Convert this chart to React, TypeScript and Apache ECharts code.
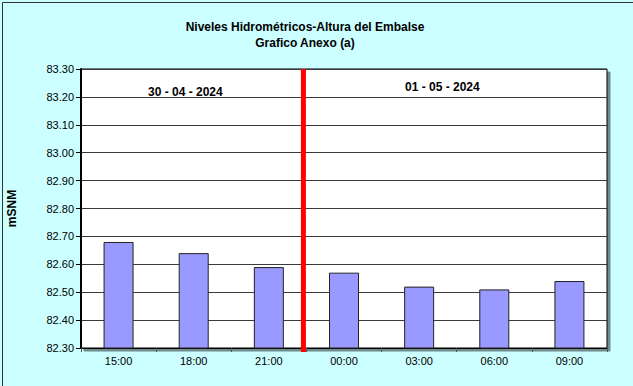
import React, { useEffect, useRef } from "react";
import * as echarts from "echarts";

const categories = ["15:00", "18:00", "21:00", "00:00", "03:00", "06:00", "09:00"];
const levels = [82.68, 82.64, 82.59, 82.57, 82.52, 82.51, 82.54];
const dayLabels = ["30 - 04 - 2024", "01 - 05 - 2024"];
const titleLines = ["Niveles Hidrométricos-Altura del Embalse", "Grafico Anexo (a)"];
const lastIndexOfFirstDay = 2;
const yMin = 82.3;
const yMax = 83.3;

export default function App() {
  const ref = useRef<HTMLDivElement>(null);
  useEffect(() => {
    document.body.style.margin = "0";
    const chart = echarts.init(ref.current!, undefined, { renderer: "svg" });
    const font = "Liberation Sans, Arial, sans-serif";
    chart.setOption({
      animation: false,
      backgroundColor: "#CCFFFF",
      title: {
        text: titleLines.join("\n"),
        left: 300,
        textAlign: "center",
        top: 14,
        textStyle: { fontFamily: font, fontSize: 12, fontWeight: "bold", color: "#000", lineHeight: 16 },
      },
      grid: {
        left: 81,
        top: 69,
        right: 26,
        bottom: 38,
        outerBoundsMode: "none",
        containLabel: false,
        show: true,
        backgroundColor: "#fff",
        borderColor: "#000",
        borderWidth: 1,
        shadowColor: "rgba(0,0,0,0.45)",
        shadowOffsetX: 3,
        shadowOffsetY: 3,
        shadowBlur: 0,
      },
      xAxis: {
        type: "category",
        data: categories,
        axisLine: { lineStyle: { color: "#000", width: 1 } },
        axisTick: { show: true, interval: 0, length: 4, lineStyle: { color: "#555" } },
        axisLabel: { fontFamily: font, fontSize: 11, color: "#000", margin: 7 },
      },
      yAxis: {
        type: "value",
        min: yMin,
        max: yMax,
        interval: 0.1,
        name: "mSNM",
        nameLocation: "middle",
        nameRotate: 90,
        nameGap: 63,
        nameTextStyle: { fontFamily: font, fontSize: 12, fontWeight: "bold", color: "#000" },
        axisLine: { show: true, lineStyle: { color: "#000", width: 2 } },
        axisTick: { show: true, length: 5, inside: false, lineStyle: { color: "#000" } },
        axisLabel: { fontFamily: font, fontSize: 11, color: "#000", margin: 7, formatter: (v: number) => v.toFixed(2) },
        splitLine: { show: true, lineStyle: { color: "#3a3a3a", width: 1 } },
      },
      series: [
        {
          type: "bar",
          data: levels,
          barWidth: 30,
          itemStyle: { color: "#9999FF", borderColor: "#222", borderWidth: 1 },
        },
        {
          type: "custom",
          silent: true,
          z: 5,
          data: [[lastIndexOfFirstDay, yMax]],
          renderItem: (params: any, api: any) => {
            const top = api.coord([api.value(0), yMax]);
            const bottom = api.coord([api.value(0), yMin]);
            const half = api.size([1, 0])[0] / 2;
            const x = top[0] + half - 3;
            return {
              type: "line",
              shape: { x1: x, y1: top[1], x2: x, y2: bottom[1] + 4 },
              style: { stroke: "#FF0000", lineWidth: 5 },
            };
          },
        },
      ],
      graphic: [
        { type: "rect", left: 0, top: 0, shape: { width: 631, height: 384 }, style: { fill: "none", stroke: "#333", lineWidth: 1 }, silent: true },
        { type: "text", left: 148, top: 86, style: { text: dayLabels[0], font: `bold 12px ${font}`, fill: "#000" } },
        { type: "text", left: 405, top: 81, style: { text: dayLabels[1], font: `bold 12px ${font}`, fill: "#000" } },
      ],
    });
    return () => chart.dispose();
  }, []);
  return <div ref={ref} style={{ width: 633, height: 386 }} />;
}
